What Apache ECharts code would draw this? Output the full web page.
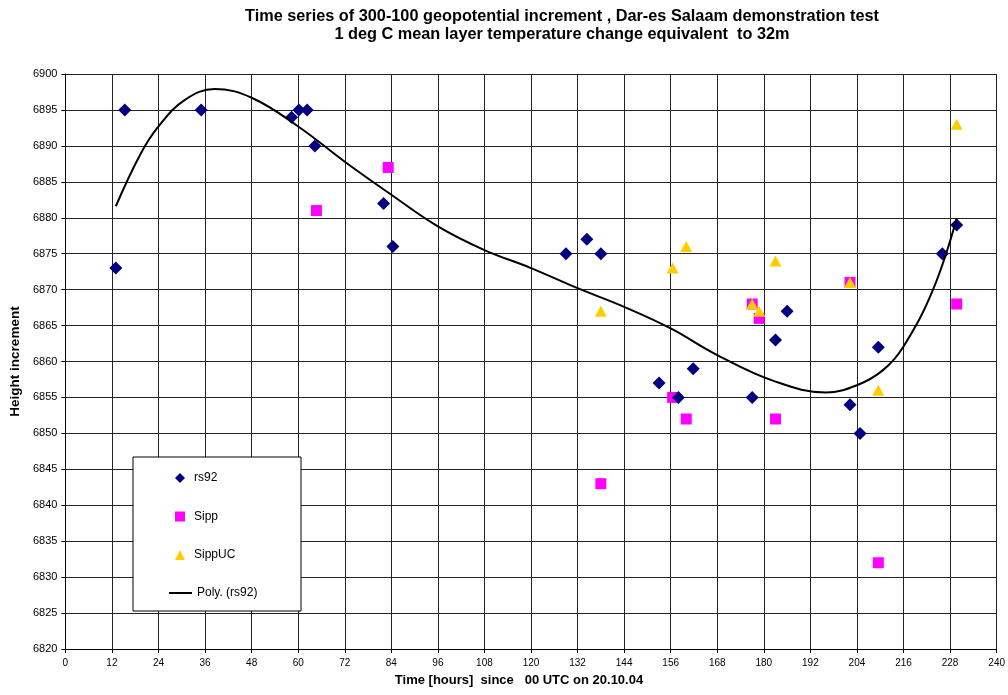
<!DOCTYPE html>
<html>
<head>
<meta charset="utf-8">
<script src="https://cdn.jsdelivr.net/npm/echarts@6/dist/echarts.min.js"></script>
<style>
  html, body { margin: 0; padding: 0; background: #fff; }
  #chart { width: 1008px; height: 695px; }
</style>
</head>
<body>
<div id="chart"></div>
<script>
// rs92 soundings [hours, height increment]
const rs92 = [
  [13, 6873], [15.3, 6895], [35, 6895], [58.3, 6894], [60.2, 6895], [62.3, 6895],
  [64.3, 6890], [82, 6882], [84.4, 6876], [129, 6875], [134.4, 6877], [138, 6875],
  [153, 6857], [158, 6855], [161.8, 6859], [177, 6855], [183, 6863], [186, 6867],
  [202.2, 6854], [204.8, 6850], [209.5, 6862], [226, 6875], [229.7, 6879]
]
const sipp = [
  [64.7, 6881], [83.2, 6887], [138, 6843], [156.5, 6855], [160, 6852], [177, 6868],
  [178.8, 6866], [183, 6852], [202.2, 6871], [209.5, 6832], [229.7, 6868]
]
const sippUC = [
  [138, 6867], [156.5, 6873], [160, 6876], [177, 6868], [178.8, 6867], [183, 6874],
  [202.2, 6871], [209.5, 6856], [229.7, 6893]
]
// polynomial trendline of rs92
const polyRs92 = [
  [13, 6881.6], [19.3, 6888.8], [24, 6892.7], [30.8, 6896.4], [38.5, 6897.9],
  [48, 6896.7], [60, 6892.7], [72, 6887.8], [84, 6883.2], [96, 6878.8],
  [108, 6875.5], [120, 6873], [132, 6870.2], [144, 6867.6], [156, 6864.6],
  [168, 6860.9], [182.5, 6857.3], [196, 6855.7], [204, 6856.7], [210.7, 6858.8],
  [216, 6862.1], [223.6, 6870], [229.7, 6879.9]
]

const chart = echarts.init(document.getElementById('chart'))
const font = 'Liberation Sans, Arial, sans-serif'
const narrow = 'Liberation Sans Narrow, Arial Narrow, Liberation Sans, sans-serif'

chart.setOption({
  backgroundColor: '#fff',
  animation: false,
  textStyle: { fontFamily: font },
  title: {
    text: 'Time series of 300-100 geopotential increment , Dar-es Salaam demonstration test\n1 deg C mean layer temperature change equivalent  to 32m',
    left: 557,
    top: 3,
    textAlign: 'center',
    textStyle: { fontFamily: font, fontSize: 16.3, fontWeight: 'bold', color: '#000', lineHeight: 18 }
  },
  grid: { left: 62, right: 11, top: 74, bottom: 46 },
  graphic: [{
    type: 'rect',
    shape: { x: 133, y: 457, width: 168, height: 154 },
    style: { fill: '#fff', stroke: '#000', lineWidth: 1 },
    z: 50
  }],
  legend: [
    {
      orient: 'vertical',
      left: 170,
      top: 467,
      itemGap: 26.5,
      itemWidth: 10,
      itemHeight: 10,
      z: 60,
      textStyle: { fontFamily: font, fontSize: 12, color: '#000', padding: [0, 0, 0, 4] },
      data: [
        { name: 'rs92', icon: 'diamond' },
        { name: 'Sipp', icon: 'rect' },
        { name: 'SippUC', icon: 'triangle' }
      ]
    },
    {
      left: 163,
      top: 582,
      itemWidth: 23,
      itemHeight: 12,
      z: 60,
      textStyle: { fontFamily: font, fontSize: 12, color: '#000' },
      data: [{ name: 'Poly. (rs92)', itemStyle: { opacity: 0 } }]
    }
  ],
  xAxis: {
    type: 'value',
    min: 0,
    max: 240,
    interval: 12,
    name: 'Time [hours]  since   00 UTC on 20.10.04',
    nameLocation: 'middle',
    nameGap: 25,
    nameTextStyle: { fontFamily: font, fontSize: 13, fontWeight: 'bold', color: '#000', padding: [0, 24, 0, 0] },
    axisLine: { lineStyle: { color: '#000' } },
    axisTick: { show: true, length: 4, lineStyle: { color: '#000' } },
    axisLabel: { fontFamily: narrow, fontSize: 10, color: '#000', margin: 9 },
    splitLine: { lineStyle: { color: '#222', width: 1 } }
  },
  yAxis: {
    type: 'value',
    min: 6820,
    max: 6900,
    interval: 5,
    name: 'Height increment',
    nameLocation: 'middle',
    nameGap: 42,
    nameTextStyle: { fontFamily: font, fontSize: 13.5, fontWeight: 'bold', color: '#000' },
    axisLine: { show: true, lineStyle: { color: '#000' } },
    axisTick: { show: true, length: 4, lineStyle: { color: '#000' } },
    axisLabel: { fontFamily: font, fontSize: 11, color: '#000', margin: 8, formatter: v => String(v) },
    splitLine: { lineStyle: { color: '#222', width: 1 } }
  },
  series: [
    {
      name: 'rs92',
      type: 'scatter',
      symbol: 'diamond',
      symbolSize: 13,
      itemStyle: { color: '#000080', opacity: 1 },
      data: rs92,
      z: 3
    },
    {
      name: 'Sipp',
      type: 'scatter',
      symbol: 'rect',
      symbolSize: 11,
      itemStyle: { color: '#FF00FF', opacity: 1 },
      data: sipp,
      z: 2
    },
    {
      name: 'SippUC',
      type: 'scatter',
      symbol: 'triangle',
      symbolSize: [12, 11],
      itemStyle: { color: '#FFCC00', opacity: 1 },
      data: sippUC,
      z: 4
    },
    {
      name: 'Poly. (rs92)',
      type: 'line',
      smooth: 0.4,
      symbol: 'none',
      lineStyle: { color: '#000', width: 2 },
      itemStyle: { color: '#000' },
      data: polyRs92,
      z: 5
    }
  ]
})

window.addEventListener('resize', () => chart.resize())
</script>
</body>
</html>
